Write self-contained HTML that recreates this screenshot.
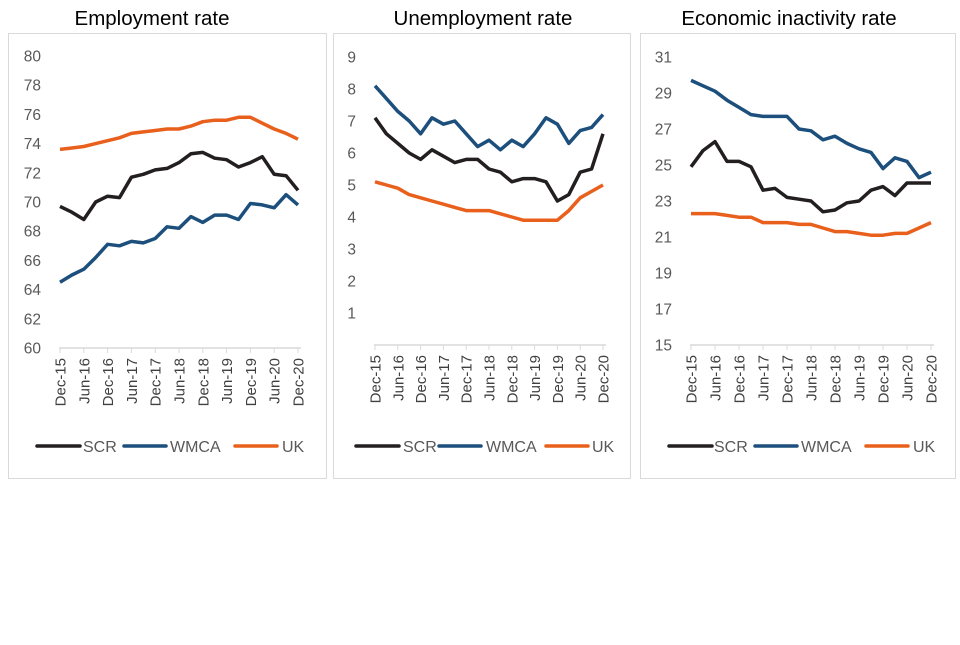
<!DOCTYPE html>
<html><head><meta charset="utf-8"><style>
body{margin:0;background:#fff;width:960px;height:640px;overflow:hidden}
svg{font-family:"Liberation Sans",sans-serif}
</style></head><body>
<svg id="s" width="960" height="640" xmlns="http://www.w3.org/2000/svg"></svg>
<script>
const S=document.getElementById('s');let h='';
const labs=['Dec-15','Jun-16','Dec-16','Jun-17','Dec-17','Jun-18','Dec-18','Jun-19','Dec-19','Jun-20','Dec-20'];
const col={SCR:'#231f20',WMCA:'#1c4f7c',UK:'#e8601c'};
const P=[
{title:'Employment rate',tx:152,box:[8,33,318,445],x0:60,x1:298,y0:348,ymin:60,ymax:80,yt:56,step:2,lx:41,
 leg:[[37,80,83],[124,166,170],[235,277,282]],
 d:{SCR:[69.7,69.3,68.8,70.0,70.4,70.3,71.7,71.9,72.2,72.3,72.7,73.3,73.4,73.0,72.9,72.4,72.7,73.1,71.9,71.8,70.8],
 WMCA:[64.5,65.0,65.4,66.2,67.1,67.0,67.3,67.2,67.5,68.3,68.2,69.0,68.6,69.1,69.1,68.8,69.9,69.8,69.6,70.5,69.8],
 UK:[73.6,73.7,73.8,74.0,74.2,74.4,74.7,74.8,74.9,75.0,75.0,75.2,75.5,75.6,75.6,75.8,75.8,75.4,75.0,74.7,74.3]}},
{title:'Unemployment rate',tx:483,box:[333,33,297,445],x0:375,x1:603,y0:345,ymin:0,ymax:9,yt:57,step:1,lx:356,skip0:true,
 leg:[[356,399,403],[439,481,486],[546,588,592]],
 d:{SCR:[7.1,6.6,6.3,6.0,5.8,6.1,5.9,5.7,5.8,5.8,5.5,5.4,5.1,5.2,5.2,5.1,4.5,4.7,5.4,5.5,6.6],
 WMCA:[8.1,7.7,7.3,7.0,6.6,7.1,6.9,7.0,6.6,6.2,6.4,6.1,6.4,6.2,6.6,7.1,6.9,6.3,6.7,6.8,7.2],
 UK:[5.1,5.0,4.9,4.7,4.6,4.5,4.4,4.3,4.2,4.2,4.2,4.1,4.0,3.9,3.9,3.9,3.9,4.2,4.6,4.8,5.0]}},
{title:'Economic inactivity rate',tx:789,box:[640,33,315,445],x0:691,x1:931,y0:345,ymin:15,ymax:31,yt:57,step:2,lx:672,
 leg:[[669,712,714],[755,797,801],[866,908,913]],
 d:{SCR:[24.9,25.8,26.3,25.2,25.2,24.9,23.6,23.7,23.2,23.1,23.0,22.4,22.5,22.9,23.0,23.6,23.8,23.3,24.0,24.0,24.0],
 WMCA:[29.7,29.4,29.1,28.6,28.2,27.8,27.7,27.7,27.7,27.0,26.9,26.4,26.6,26.2,25.9,25.7,24.8,25.4,25.2,24.3,24.6],
 UK:[22.3,22.3,22.3,22.2,22.1,22.1,21.8,21.8,21.8,21.7,21.7,21.5,21.3,21.3,21.2,21.1,21.1,21.2,21.2,21.5,21.8]}}];
for(const p of P){
 const [bx,by,bw,bh]=p.box;
 h+=`<rect x="${bx+.5}" y="${by+.5}" width="${bw}" height="${bh}" fill="none" stroke="#d9d9d9"/>`;
 h+=`<text x="${p.tx}" y="25" text-anchor="middle" font-size="20.5" fill="#000">${p.title}</text>`;
 const Y=v=>p.y0-(v-p.ymin)/(p.ymax-p.ymin)*(p.y0-p.yt);
 for(let v=p.ymin;v<=p.ymax;v+=p.step){if(p.skip0&&v==0)continue;
  h+=`<text x="${p.lx}" y="${Y(v)+5.5}" text-anchor="end" font-size="15.5" fill="#595959">${v}</text>`;}
 h+=`<line x1="${p.x0-1}" x2="${p.x1+3}" y1="${p.y0}" y2="${p.y0}" stroke="#d9d9d9" stroke-width="1.5"/>`;
 const dx=(p.x1-p.x0)/20;
 for(let i=0;i<11;i++){const x=p.x0+i*2*dx;
  h+=`<line x1="${x}" x2="${x}" y1="${p.y0}" y2="${p.y0+5}" stroke="#d9d9d9"/>`;
  h+=`<text transform="translate(${x+5.5},${p.y0+10}) rotate(-90)" text-anchor="end" font-size="15" fill="#404040">${labs[i]}</text>`;}
 for(const k of ['SCR','WMCA','UK']){
  h+=`<polyline fill="none" stroke="${col[k]}" stroke-width="3.5" stroke-linejoin="round" points="${p.d[k].map((v,i)=>(p.x0+i*dx).toFixed(1)+','+Y(v).toFixed(1)).join(' ')}"/>`;}
 ['SCR','WMCA','UK'].forEach((k,i)=>{const l=p.leg[i];
  h+=`<line x1="${l[0]}" x2="${l[1]}" y1="446" y2="446" stroke="${col[k]}" stroke-width="3.5" stroke-linecap="round"/>`;
  h+=`<text x="${l[2]}" y="452" font-size="16" fill="#595959">${k}</text>`;});
}
S.innerHTML=h;
</script>
</body></html>
